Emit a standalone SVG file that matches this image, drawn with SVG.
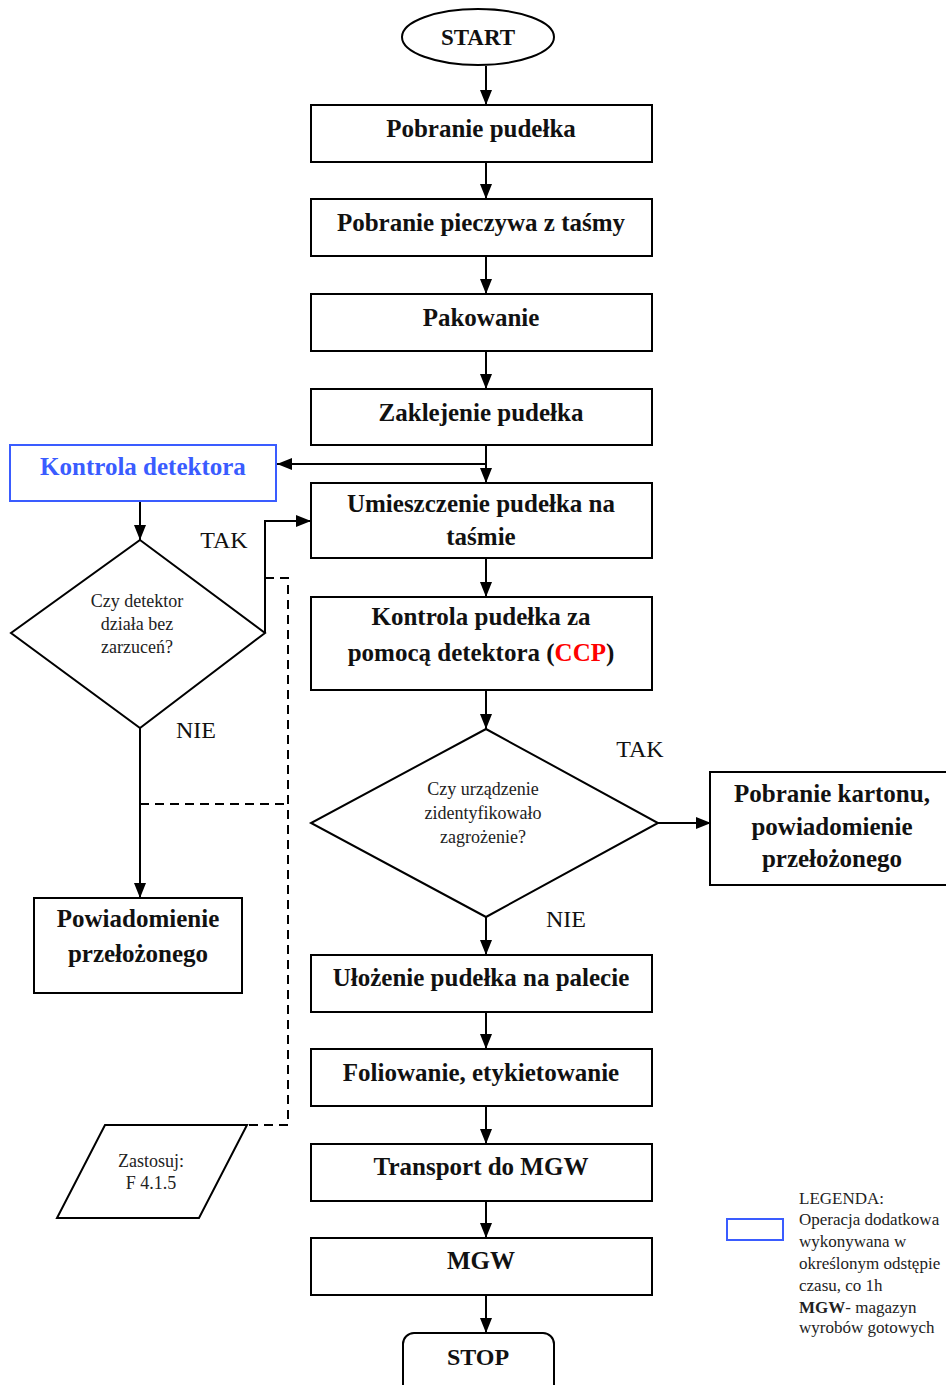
<svg xmlns="http://www.w3.org/2000/svg" width="946" height="1385" viewBox="0 0 946 1385">
  <style>
    .box { fill: #ffffff; stroke: #000000; stroke-width: 2; }
    .extra { fill: #ffffff; stroke: #3a5cff; stroke-width: 2; }
    .t { font-family: "Liberation Serif", "Times New Roman", serif; font-weight: bold; font-size: 25px; fill: #111111; text-anchor: middle; }
    .q { font-family: "Liberation Serif", "Times New Roman", serif; font-size: 18px; fill: #222222; text-anchor: middle; }
    .lbl { font-family: "Liberation Serif", "Times New Roman", serif; font-size: 24px; fill: #111111; text-anchor: middle; }
    .leg { font-family: "Liberation Serif", "Times New Roman", serif; font-size: 17px; fill: #222222; }
    .line { fill: none; stroke: #000000; stroke-width: 2; }
    .dash { fill: none; stroke: #000000; stroke-width: 2; stroke-dasharray: 9 6; }
  </style>
  <defs>
    <marker id="arrow" viewBox="0 0 15 14" refX="15" refY="7" markerWidth="15" markerHeight="14" markerUnits="userSpaceOnUse" orient="auto">
      <path d="M0,1 L15,7 L0,13 z" fill="#000000"/>
    </marker>
  </defs>

  <rect width="946" height="1385" fill="#ffffff"/>

  <!-- connectors -->
  <g id="connectors">
    <line class="line" x1="486" y1="66" x2="486" y2="105" marker-end="url(#arrow)"/>
    <line class="line" x1="486" y1="162" x2="486" y2="199" marker-end="url(#arrow)"/>
    <line class="line" x1="486" y1="256" x2="486" y2="294" marker-end="url(#arrow)"/>
    <line class="line" x1="486" y1="351" x2="486" y2="389" marker-end="url(#arrow)"/>
    <line class="line" x1="486" y1="445" x2="486" y2="483" marker-end="url(#arrow)"/>
    <line class="line" x1="486" y1="464" x2="277" y2="464" marker-end="url(#arrow)"/>
    <line class="line" x1="486" y1="558" x2="486" y2="597" marker-end="url(#arrow)"/>
    <line class="line" x1="486" y1="690" x2="486" y2="729" marker-end="url(#arrow)"/>
    <line class="line" x1="658" y1="823" x2="711" y2="823" marker-end="url(#arrow)"/>
    <line class="line" x1="486" y1="917" x2="486" y2="955" marker-end="url(#arrow)"/>
    <line class="line" x1="486" y1="1012" x2="486" y2="1049" marker-end="url(#arrow)"/>
    <line class="line" x1="486" y1="1106" x2="486" y2="1144" marker-end="url(#arrow)"/>
    <line class="line" x1="486" y1="1201" x2="486" y2="1238" marker-end="url(#arrow)"/>
    <line class="line" x1="486" y1="1295" x2="486" y2="1333" marker-end="url(#arrow)"/>
    <!-- detector check loop -->
    <line class="line" x1="140" y1="501" x2="140" y2="540" marker-end="url(#arrow)"/>
    <polyline class="line" points="265,633 265,521 311,521" marker-end="url(#arrow)"/>
    <line class="line" x1="140" y1="728" x2="140" y2="898" marker-end="url(#arrow)"/>
    <!-- reference to F 4.1.5 -->
    <polyline class="dash" points="265,578 288,578 288,1125 247,1125"/>
    <line class="dash" x1="140" y1="804" x2="288" y2="804"/>
  </g>

  <g id="start">
    <ellipse cx="478" cy="37" rx="76" ry="28" class="box"/>
    <text x="478" y="45" class="t" style="font-size:23px">START</text>
  </g>

  <g id="pobranie-pudelka">
    <rect x="311" y="105" width="341" height="57" class="box"/>
    <text x="481" y="137" class="t">Pobranie pudełka</text>
  </g>

  <g id="pobranie-pieczywa">
    <rect x="311" y="199" width="341" height="57" class="box"/>
    <text x="481" y="231" class="t">Pobranie pieczywa z taśmy</text>
  </g>

  <g id="pakowanie">
    <rect x="311" y="294" width="341" height="57" class="box"/>
    <text x="481" y="326" class="t">Pakowanie</text>
  </g>

  <g id="zaklejenie">
    <rect x="311" y="389" width="341" height="56" class="box"/>
    <text x="481" y="421" class="t">Zaklejenie pudełka</text>
  </g>

  <g id="kontrola-detektora">
    <rect x="10" y="445" width="266" height="56" class="extra"/>
    <text x="143" y="475" class="t" style="fill:#3a5cff">Kontrola detektora</text>
  </g>

  <g id="umieszczenie">
    <rect x="311" y="483" width="341" height="75" class="box"/>
    <text x="481" y="512" class="t">Umieszczenie pudełka na</text>
    <text x="481" y="545" class="t">taśmie</text>
  </g>

  <g id="kontrola-pudelka">
    <rect x="311" y="597" width="341" height="93" class="box"/>
    <text x="481" y="625" class="t">Kontrola pudełka za</text>
    <text x="481" y="661" class="t">pomocą detektora (<tspan fill="#ff0000">CCP</tspan>)</text>
  </g>

  <g id="decyzja-detektor">
    <polygon points="140,540 265,633 140,728 11,633" class="box"/>
    <text x="137" y="607" class="q">Czy detektor</text>
    <text x="137" y="630" class="q">działa bez</text>
    <text x="137" y="653" class="q">zarzuceń?</text>
    <text x="224" y="548" class="lbl">TAK</text>
    <text x="196" y="738" class="lbl">NIE</text>
  </g>

  <g id="decyzja-zagrozenie">
    <polygon points="486,729 658,823 486,917 311,823" class="box"/>
    <text x="483" y="795" class="q">Czy urządzenie</text>
    <text x="483" y="819" class="q">zidentyfikowało</text>
    <text x="483" y="843" class="q">zagrożenie?</text>
    <text x="640" y="757" class="lbl">TAK</text>
    <text x="566" y="927" class="lbl">NIE</text>
  </g>

  <g id="pobranie-kartonu">
    <rect x="710" y="772" width="240" height="113" class="box"/>
    <text x="832" y="802" class="t">Pobranie kartonu,</text>
    <text x="832" y="835" class="t">powiadomienie</text>
    <text x="832" y="867" class="t">przełożonego</text>
  </g>

  <g id="powiadomienie">
    <rect x="34" y="898" width="208" height="95" class="box"/>
    <text x="138" y="927" class="t">Powiadomienie</text>
    <text x="138" y="962" class="t">przełożonego</text>
  </g>

  <g id="ulozenie">
    <rect x="311" y="955" width="341" height="57" class="box"/>
    <text x="481" y="986" class="t">Ułożenie pudełka na palecie</text>
  </g>

  <g id="foliowanie">
    <rect x="311" y="1049" width="341" height="57" class="box"/>
    <text x="481" y="1081" class="t">Foliowanie, etykietowanie</text>
  </g>

  <g id="transport">
    <rect x="311" y="1144" width="341" height="57" class="box"/>
    <text x="481" y="1175" class="t">Transport do MGW</text>
  </g>

  <g id="mgw">
    <rect x="311" y="1238" width="341" height="57" class="box"/>
    <text x="481" y="1269" class="t">MGW</text>
  </g>

  <g id="stop">
    <rect x="403" y="1333" width="151" height="70" rx="11" class="box"/>
    <text x="478" y="1365" class="t" style="font-size:24px">STOP</text>
  </g>

  <g id="zastosuj">
    <polygon points="105,1125 247,1125 199,1218 57,1218" class="box"/>
    <text x="151" y="1167" class="q">Zastosuj:</text>
    <text x="151" y="1189" class="q">F 4.1.5</text>
  </g>

  <g id="legenda">
    <rect x="727" y="1219" width="56" height="21" class="extra"/>
    <text x="799" y="1204" class="leg">LEGENDA:</text>
    <text x="799" y="1225" class="leg">Operacja dodatkowa</text>
    <text x="799" y="1247" class="leg">wykonywana w</text>
    <text x="799" y="1269" class="leg">określonym odstępie</text>
    <text x="799" y="1291" class="leg">czasu, co 1h</text>
    <text x="799" y="1313" class="leg"><tspan font-weight="bold">MGW</tspan>- magazyn</text>
    <text x="799" y="1333" class="leg">wyrobów gotowych</text>
  </g>
</svg>
